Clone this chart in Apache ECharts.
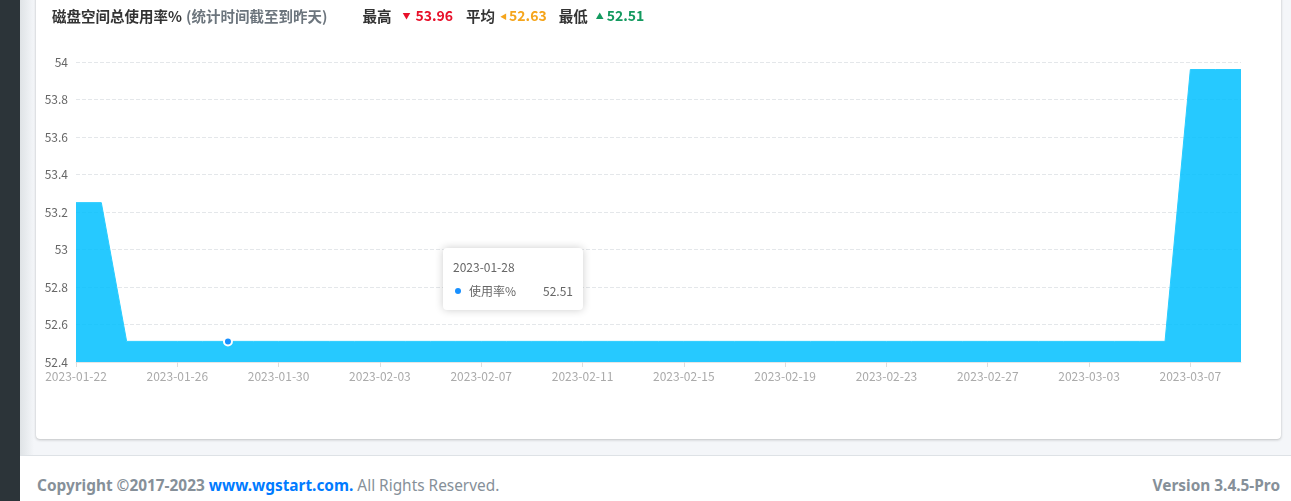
<!DOCTYPE html>
<html><head><meta charset="utf-8">
<script src="https://cdn.jsdelivr.net/npm/echarts@6/dist/echarts.min.js"></script>
<style>
html,body{margin:0;padding:0;width:1291px;height:501px;overflow:hidden;background:#f4f6f9;font-family:"Noto Sans","Noto Sans CJK SC",sans-serif;}
#side{position:absolute;left:0;top:0;width:20px;height:501px;background:#2c3439;}
#shade{position:absolute;left:20px;top:0;width:14px;height:501px;background:linear-gradient(to right,#dfe3e6,#f4f6f9);}
#card{position:absolute;left:36px;top:-10px;width:1245px;height:449px;background:#fff;border-radius:4px;box-shadow:0 0 1px rgba(0,0,0,.125),0 1px 3px rgba(0,0,0,.2);}
#footer{position:absolute;left:20px;top:455px;width:1271px;height:46px;background:#fff;border-top:1px solid #dee2e6;color:#869099;font-size:15.4px;}
#footer .l{position:absolute;left:17px;top:19px;}
#footer .r{position:absolute;right:11px;top:19px;font-weight:bold;}
#footer a{color:#007bff;text-decoration:none;font-weight:bold;}
#chart{position:absolute;left:0;top:0;width:1291px;height:501px;}
</style></head>
<body>
<div id="side"></div><div id="shade"></div>
<div id="card"></div>
<div id="footer"><span class="l"><b>Copyright ©2017-2023</b> <a>www.wgstart.com.</a> All Rights Reserved.</span><span class="r">Version 3.4.5-Pro</span></div>
<div id="chart"></div>
<script>
const titleMain = '磁盘空间总使用率%';
const titleSub = '(统计时间截至到昨天)';
const statMax = '53.96', statAvg = '52.63', statMin = '52.51';
const seriesName = '使用率%';
const dates = ['2023-01-22','2023-01-23','2023-01-24','2023-01-25','2023-01-26','2023-01-27','2023-01-28','2023-01-29','2023-01-30','2023-01-31',
'2023-02-01','2023-02-02','2023-02-03','2023-02-04','2023-02-05','2023-02-06','2023-02-07','2023-02-08','2023-02-09','2023-02-10',
'2023-02-11','2023-02-12','2023-02-13','2023-02-14','2023-02-15','2023-02-16','2023-02-17','2023-02-18','2023-02-19','2023-02-20',
'2023-02-21','2023-02-22','2023-02-23','2023-02-24','2023-02-25','2023-02-26','2023-02-27','2023-02-28',
'2023-03-01','2023-03-02','2023-03-03','2023-03-04','2023-03-05','2023-03-06','2023-03-07','2023-03-08','2023-03-09'];
const usage = [53.25,53.25,52.51,52.51,52.51,52.51,52.51,52.51,52.51,52.51,
52.51,52.51,52.51,52.51,52.51,52.51,52.51,52.51,52.51,52.51,
52.51,52.51,52.51,52.51,52.51,52.51,52.51,52.51,52.51,52.51,
52.51,52.51,52.51,52.51,52.51,52.51,52.51,52.51,
52.51,52.51,52.51,52.51,52.51,52.51,53.96,53.96,53.96];
const hoverIndex = 6;

const chart = echarts.init(document.getElementById('chart'));
const ff = '"Noto Sans CJK SC","Noto Sans",sans-serif';
chart.setOption({
  animation:false,
  textStyle:{fontFamily:ff},
  title:{
    left:47, top:2,
    text:'{a|'+titleMain+'} {b|'+titleSub+'}{s|}{a|最高}{tr|▼}{r|'+statMax+'}{s2|}{a|平均}{to|◀}{o|'+statAvg+'}{s3|}{a|最低}{tg|▲}{g|'+statMin+'}',
    textStyle:{rich:{
      a:{fontSize:14.5,fontWeight:'bold',color:'#333',fontFamily:ff},
      b:{fontSize:14.5,color:'#6c757d',fontFamily:ff},
      s:{width:35},
      s2:{width:13},
      s3:{width:12},
      tr:{fontSize:8,color:'#e8102a',padding:[0,5,0,11]},
      to:{fontSize:7,color:'#f5a51c',padding:[0,2,0,5]},
      tg:{fontSize:8,color:'#139a5f',padding:[0,3,0,8]},
      r:{fontSize:14,fontWeight:'bold',color:'#e8102a',fontFamily:ff},
      o:{fontSize:14,fontWeight:'bold',color:'#f5a51c',fontFamily:ff},
      g:{fontSize:14,fontWeight:'bold',color:'#139a5f',fontFamily:ff}
    }}
  },
  grid:{left:76,right:50,top:62,bottom:139},
  tooltip:{
    trigger:'axis',
    axisPointer:{type:'none'},
    position:function(){return [443,248];},
    backgroundColor:'#fff',borderWidth:0,padding:[10,10],
    extraCssText:'box-shadow:0 0 8px rgba(0,0,0,.2);border-radius:4px;',
    formatter:function(p){
      const d=p[0];
      return '<div style="font-family:'+ff.replace(/"/g,"'")+';font-size:12px;color:#666;line-height:18px;width:120px">'+
        '<div style="margin-bottom:6px">'+d.name+'</div>'+
        '<div><span style="display:inline-block;width:6px;height:6px;border-radius:3px;background:#1890ff;margin:0 8px 2px 2px"></span>'+d.seriesName+
        '<span style="float:right">'+d.value+'</span></div></div>';
    }
  },
  xAxis:{
    type:'category',data:dates,boundaryGap:false,
    axisLine:{show:true,lineStyle:{color:'#e6e6e6'}},
    axisTick:{show:true,interval:3,alignWithLabel:true,lineStyle:{color:'#ddd'}},
    axisLabel:{interval:3,color:'#aaa',fontSize:12,margin:8,fontFamily:ff}
  },
  yAxis:{
    type:'value',min:52.4,max:54,interval:0.2,
    axisLine:{show:false},axisTick:{show:false},
    axisLabel:{color:'#666',fontSize:12,margin:8,fontFamily:ff},
    splitLine:{lineStyle:{type:'dashed',color:'#e4e7ea'}}
  },
  series:[{
    name:seriesName,type:'line',data:usage,
    showSymbol:false,symbol:'circle',symbolSize:8,
    itemStyle:{color:'#1890ff',borderColor:'#fff',borderWidth:2},
    lineStyle:{color:'#26bafc',width:1},
    areaStyle:{color:'#00aefc',opacity:0.85},
    emphasis:{scale:false,itemStyle:{color:'#1890ff',borderColor:'#fff',borderWidth:2}}
  }]
});
chart.dispatchAction({type:'showTip',seriesIndex:0,dataIndex:hoverIndex});
chart.dispatchAction({type:'highlight',seriesIndex:0,dataIndex:hoverIndex});
</script>
</body></html>
